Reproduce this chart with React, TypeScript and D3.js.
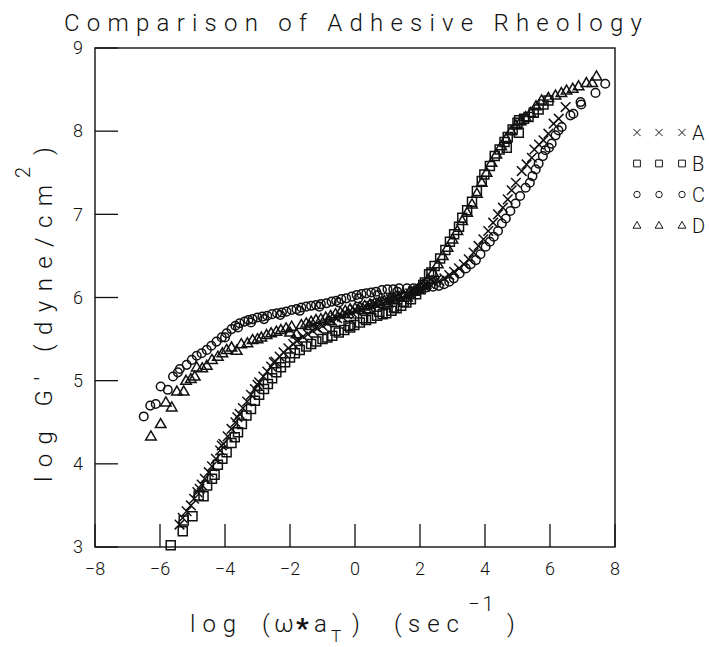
import React from "react";
import * as d3 from "d3";

type P = [number, number];

const seriesNames = ["A", "B", "C", "D"];
const xTicks = [-8, -6, -4, -2, 0, 2, 4, 6, 8];
const yTicks = [3, 4, 5, 6, 7, 8, 9];

const seriesA: P[] = [
  [-5.40,3.27],[-5.30,3.35],[-5.18,3.43],[-5.05,3.50],[-4.95,3.58],[-4.85,3.66],[-4.72,3.75],[-4.62,3.82],
  [-4.50,3.90],[-4.40,3.97],[-4.28,4.06],[-4.15,4.16],[-4.05,4.24],[-3.92,4.33],[-3.80,4.42],[-3.68,4.50],
  [-3.55,4.60],[-3.45,4.67],[-3.32,4.75],[-3.20,4.83],[-3.08,4.90],[-2.95,4.98],[-2.82,5.05],[-2.70,5.11],
  [-2.58,5.17],[-2.45,5.23],[-2.32,5.29],[-2.20,5.34],[-2.05,5.39],[-1.90,5.44],[-1.75,5.49],[-1.60,5.53],
  [-1.45,5.56],[-1.30,5.60],[-1.15,5.63],[-1.00,5.66],[-0.85,5.69],[-0.70,5.72],[-0.55,5.75],[-0.40,5.77],
  [-0.25,5.80],[-0.10,5.82],[0.05,5.84],[0.20,5.86],[0.35,5.88],[0.50,5.90],[0.65,5.92],[0.80,5.94],
  [0.95,5.96],[1.10,5.98],[1.25,6.00],[1.40,6.02],[1.55,6.03],[1.70,6.05],[1.85,6.08],[2.00,6.10],
  [2.15,6.13],[2.30,6.16],[2.45,6.18],[2.60,6.20],[2.75,6.23],[2.90,6.27],[3.05,6.31],[3.20,6.35],
  [3.35,6.40],[3.50,6.46],[3.65,6.54],[3.80,6.62],[3.95,6.70],[4.10,6.80],[4.25,6.90],[4.40,7.00],
  [4.55,7.08],[4.70,7.18],[4.82,7.29],[4.95,7.38],[5.13,7.52],[5.28,7.60],[5.44,7.68],[5.52,7.78],
  [5.66,7.84],[5.80,7.89],[5.95,7.97],[6.11,8.09],[6.27,8.15],[6.48,8.29],
  [-4.78,3.70],[-4.10,4.22],[-3.62,4.56],[-3.00,4.95],[-2.50,5.22],[-1.80,5.48],[-1.20,5.64],[-0.60,5.76],
  [0.00,5.85],[0.60,5.93],[1.20,6.00],[1.80,6.08],[2.20,6.16],[2.50,6.21],
];

const seriesB: P[] = [
  [-5.67,3.02],[-5.30,3.19],[-5.27,3.32],[-5.00,3.37],[-4.81,3.62],[-4.66,3.61],[-4.55,3.74],[-4.40,3.82],
  [-4.32,3.87],[-4.22,3.99],[-4.08,4.06],[-3.95,4.14],[-3.80,4.25],[-3.70,4.32],[-3.60,4.38],[-3.48,4.48],
  [-3.34,4.58],[-3.20,4.66],[-3.08,4.76],[-2.95,4.83],[-2.80,4.90],[-2.68,4.96],[-2.55,5.03],[-2.42,5.10],
  [-2.28,5.16],[-2.15,5.22],[-2.00,5.28],[-1.85,5.33],[-1.70,5.37],[-1.50,5.41],[-1.35,5.44],[-1.19,5.47],
  [-1.00,5.50],[-0.85,5.52],[-0.70,5.54],[-0.50,5.58],[-0.33,5.61],[-0.15,5.64],[-0.02,5.67],[0.15,5.70],
  [0.34,5.73],[0.50,5.75],[0.68,5.78],[0.85,5.80],[0.96,5.81],[1.12,5.84],[1.28,5.87],[1.42,5.90],
  [1.58,5.94],[1.72,5.98],[1.88,6.04],[2.02,6.10],[2.15,6.18],[2.28,6.28],[2.45,6.38],[2.62,6.47],
  [2.78,6.57],[2.92,6.67],[3.05,6.76],[3.20,6.85],[3.30,6.96],[3.45,7.05],[3.60,7.15],[3.75,7.28],
  [3.90,7.40],[3.98,7.48],[4.15,7.58],[4.30,7.70],[4.45,7.78],[4.60,7.87],[4.67,7.80],[4.70,7.93],
  [4.85,8.02],[5.00,8.10],[5.04,7.98],[5.05,8.13],[5.20,8.15],[5.34,8.17],[5.50,8.22],[5.65,8.26],
  [5.80,8.32],[5.95,8.37],
  [-0.60,5.60],[-0.20,5.66],[0.25,5.75],[0.75,5.83],[1.20,5.88],[1.50,5.95],[2.10,6.15],[2.35,6.30],
];

const seriesC: P[] = [
  [-6.50,4.57],[-6.30,4.70],[-6.13,4.72],[-5.98,4.93],[-5.76,4.89],[-5.60,5.05],[-5.45,5.10],[-5.39,5.14],
  [-5.18,5.19],[-5.02,5.25],[-4.87,5.30],[-4.72,5.33],[-4.56,5.37],[-4.42,5.42],[-4.26,5.47],[-4.10,5.52],
  [-3.95,5.57],[-3.80,5.62],[-3.68,5.66],[-3.55,5.69],[-3.40,5.71],[-3.28,5.73],[-3.15,5.74],[-3.00,5.76],
  [-2.85,5.77],[-2.70,5.78],[-2.55,5.80],[-2.40,5.81],[-2.25,5.82],[-2.11,5.83],[-1.95,5.85],[-1.80,5.86],
  [-1.65,5.88],[-1.50,5.89],[-1.35,5.90],[-1.20,5.91],[-1.05,5.92],[-0.88,5.93],[-0.72,5.95],[-0.58,5.96],
  [-0.42,5.98],[-0.27,5.99],[-0.10,6.01],[0.05,6.03],[0.20,6.04],[0.35,6.05],[0.50,6.06],[0.65,6.07],
  [0.83,6.09],[1.00,6.10],[1.18,6.10],[1.36,6.11],[1.60,6.11],[1.80,6.11],[2.00,6.12],[2.20,6.12],
  [2.40,6.13],[2.58,6.14],[2.74,6.16],[2.90,6.19],[3.04,6.23],[3.22,6.29],[3.41,6.35],[3.56,6.40],
  [3.72,6.45],[3.86,6.52],[4.02,6.61],[4.15,6.67],[4.27,6.73],[4.40,6.80],[4.52,6.89],[4.64,6.95],
  [4.78,7.04],[4.94,7.13],[5.08,7.22],[5.25,7.32],[5.38,7.38],[5.46,7.46],[5.56,7.54],[5.65,7.61],
  [5.78,7.70],[5.86,7.77],[5.97,7.80],[6.05,7.85],[6.17,7.95],[6.26,8.01],[6.36,8.05],[6.63,8.19],
  [6.72,8.21],[6.94,8.35],[6.96,8.32],[7.40,8.46],[7.70,8.57],
  [-4.00,5.52],[-3.60,5.64],[-3.20,5.70],[-2.80,5.74],[-2.30,5.79],[-1.70,5.84],[-1.10,5.89],[-0.50,5.94],
  [0.10,5.99],[0.70,6.03],[1.30,6.07],[1.90,6.09],
];

const seriesD: P[] = [
  [-6.28,4.33],[-5.98,4.48],[-5.82,4.74],[-5.64,4.68],[-5.48,4.87],[-5.27,4.87],[-5.20,5.00],[-5.05,5.02],
  [-4.93,5.05],[-4.87,5.16],[-4.70,5.15],[-4.56,5.18],[-4.40,5.25],[-4.22,5.29],[-4.08,5.33],[-3.95,5.37],
  [-3.80,5.40],[-3.64,5.36],[-3.50,5.44],[-3.31,5.45],[-3.15,5.49],[-3.00,5.50],[-2.88,5.52],[-2.72,5.55],
  [-2.58,5.57],[-2.42,5.59],[-2.28,5.61],[-2.12,5.63],[-1.95,5.65],[-1.80,5.56],[-1.65,5.67],[-1.50,5.69],
  [-1.35,5.71],[-1.20,5.73],[-1.05,5.74],[-0.90,5.76],[-0.75,5.78],[-0.60,5.80],[-0.45,5.82],[-0.30,5.84],
  [-0.15,5.86],[0.00,5.87],[0.15,5.88],[0.30,5.90],[0.45,5.91],[0.60,5.93],[0.75,5.95],[0.90,5.96],
  [1.05,5.98],[1.20,6.00],[1.35,6.01],[1.50,6.03],[1.65,6.05],[1.80,6.07],[1.95,6.10],[2.10,6.15],
  [2.25,6.22],[2.40,6.30],[2.55,6.40],[2.70,6.50],[2.85,6.60],[3.00,6.70],[3.15,6.80],[3.30,6.92],
  [3.45,7.02],[3.60,7.12],[3.75,7.25],[3.90,7.38],[4.05,7.50],[4.20,7.62],[4.35,7.72],[4.50,7.82],
  [4.65,7.91],[4.80,8.00],[4.95,8.07],[5.10,8.12],[5.25,8.17],[5.40,8.22],[5.57,8.30],[5.74,8.37],
  [5.95,8.40],[6.17,8.43],[6.35,8.46],[6.51,8.49],[6.70,8.51],[6.88,8.54],[7.12,8.58],[7.30,8.58],
  [7.43,8.66],
  [-2.00,5.58],[-1.40,5.66],[-0.80,5.72],[-0.20,5.80],[0.40,5.86],[1.00,5.93],[1.60,6.00],
];

const allSeries = [seriesA, seriesB, seriesC, seriesD];

const FONT = "Roboto, 'DejaVu Sans', sans-serif";

function markerPath(kind: number): string {
  const p = d3.path();
  if (kind === 0) {
    const s = 4.8;
    p.moveTo(-s, -s); p.lineTo(s, s);
    p.moveTo(-s, s); p.lineTo(s, -s);
  } else if (kind === 1) {
    p.rect(-4.5, -4.5, 9, 9);
  } else if (kind === 2) {
    p.arc(0, 0, 4.3, 0, Math.PI * 2);
  } else {
    const h = 9, w = 10.5;
    p.moveTo(0, -h * 0.6); p.lineTo(w / 2, h * 0.4); p.lineTo(-w / 2, h * 0.4); p.closePath();
  }
  return p.toString();
}

export default function App() {
  const W = 709, H = 647;
  const x = d3.scaleLinear().domain([-8, 8]).range([95, 615]);
  const y = d3.scaleLinear().domain([3, 9]).range([547, 48]);
  const legendY = d3.scaleBand().domain(seriesNames).range([117, 241]);
  const legendX = [637, 659, 682];
  const tickLen = 23;
  const sw = 1.5;

  return (
    <svg width={W} height={H} style={{ position: "absolute", left: 0, top: 0, background: "#fff" }}
      fontFamily={FONT} fontWeight={300}>
      <rect x={0} y={0} width={W} height={H} fill="#fff" />
      {/* title */}
      <text x={64} y={31} fontSize={24} textLength={578} lengthAdjust="spacing" fill="#111">
        Comparison of Adhesive Rheology
      </text>
      {/* frame */}
      <rect x={x(-8)} y={y(9)} width={x(8) - x(-8)} height={y(3) - y(9)} fill="none" stroke="#111" strokeWidth={1.4} />
      {/* x ticks */}
      {xTicks.map((t) => (
        <g key={"xt" + t}>
          <line x1={x(t)} x2={x(t)} y1={y(3)} y2={y(3) - tickLen} stroke="#111" strokeWidth={1.3} />
          <text x={x(t)} y={y(3) + 28} fontSize={18} textAnchor="middle" fill="#111">
            {t < 0 ? "\u2212" + Math.abs(t) : String(t)}
          </text>
        </g>
      ))}
      {/* y ticks */}
      {yTicks.map((t) => (
        <g key={"yt" + t}>
          <line x1={x(-8)} x2={x(-8) + tickLen} y1={y(t)} y2={y(t)} stroke="#111" strokeWidth={1.3} />
          <text x={x(-8) - 12} y={y(t)} dy="0.35em" fontSize={18} textAnchor="end" fill="#111">{t}</text>
        </g>
      ))}
      {/* y label */}
      <g transform="translate(52,482) rotate(-90)" fill="#111">
        <text x={0} y={0} fontSize={24} textLength={297} lengthAdjust="spacing">
          log G' (dyne/cm
        </text>
        <text x={304} y={-22} fontSize={20}>2</text>
        <text x={327} y={0} fontSize={24}>)</text>
      </g>
      {/* x label */}
      <g fill="#111" fontSize={24}>
        <text x={190} y={632} letterSpacing={7}>log</text>
        <text x={262} y={632}>(</text>
        <text x={274} y={632}>ω</text>
        <text x={296} y={638} fontSize={28} fontWeight={700}>*</text>
        <text x={314} y={632}>a</text>
        <text x={331} y={642} fontSize={17}>T</text>
        <text x={352} y={632}>)</text>
        <text x={394} y={632}>(</text>
        <text x={408} y={632} letterSpacing={7}>sec</text>
        <text x={468} y={611} fontSize={20} letterSpacing={3}>{"\u22121"}</text>
        <text x={507} y={632}>)</text>
      </g>
      {/* data */}
      {allSeries.map((s, k) => (
        <g key={"s" + k} fill="none" stroke="#111" strokeWidth={sw}>
          {s.map((d, i) => (
            <path key={i} d={markerPath(k)} transform={`translate(${x(d[0])},${y(d[1])})`} />
          ))}
        </g>
      ))}
      {/* legend */}
      {seriesNames.map((n, k) => {
        const cy = (legendY(n) as number) + legendY.bandwidth() / 2;
        return (
          <g key={"lg" + n}>
            {legendX.map((lx, j) => (
              <path key={j} d={markerPath(k)} transform={`translate(${lx},${cy}) scale(0.75)`}
                fill="none" stroke="#111" strokeWidth={1.3} />
            ))}
            <text x={692} y={cy} dy="0.36em" fontSize={20} fill="#111">{n}</text>
          </g>
        );
      })}
    </svg>
  );
}
